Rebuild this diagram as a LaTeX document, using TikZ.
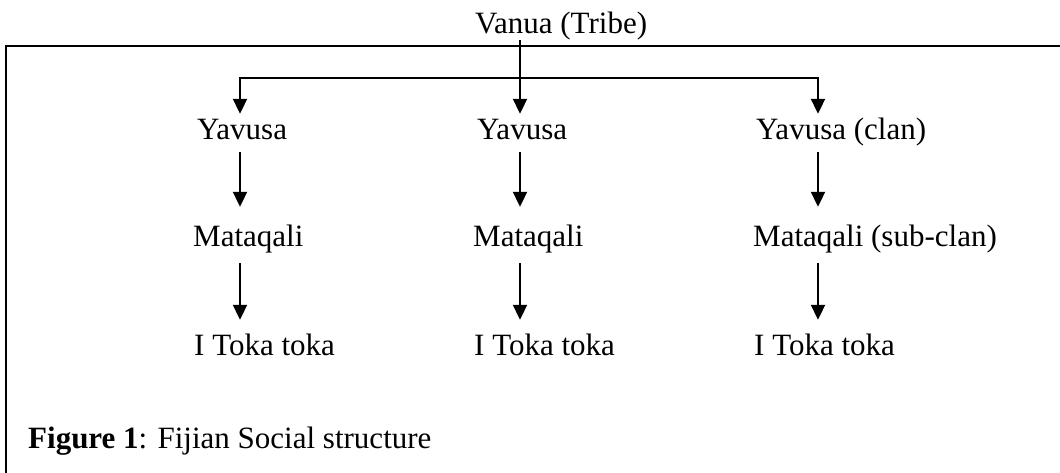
\documentclass[tikz,border=0pt]{standalone}
\usepackage{fontspec}
\setmainfont{Liberation Serif}
\usetikzlibrary{arrows.meta}
\begin{document}
\begin{tikzpicture}[x=1pt,y=-1pt,
  tri/.tip={Triangle[length=15pt,width=14pt]},
  lbl/.style={inner sep=0pt, anchor=base west, font=\fontsize{31}{37}\selectfont, text height=21pt, text depth=7pt},
  arr/.style={line width=2pt, -tri},
  frame/.style={line width=2pt}]
\useasboundingbox (0,0) rectangle (1060,472);
% frame (extends beyond the picture edges)
\coordinate (fr1) at (1070,46);
\coordinate (fr2) at (6,46);
\coordinate (fr3) at (6,480);
\draw[frame] (fr1) -- (fr2) -- (fr3);
% column axes
\coordinate (a1) at (240,0);
\coordinate (a2) at (520,0);
\coordinate (a3) at (818,0);
\coordinate (hub) at (520,78);
% nodes
\node[lbl] (v) at (475,33) {Vanua (Tribe)};
\node[lbl] (y1) at (197,139) {Yavusa};
\node[lbl] (y2) at (477,139) {Yavusa};
\node[lbl] (y3) at (756,139) {Yavusa (clan)};
\node[lbl] (m1) at (193,246) {Mataqali};
\node[lbl] (m2) at (473,246) {Mataqali};
\node[lbl] (m3) at (753,246) {Mataqali (sub-clan)};
\node[lbl] (t1) at (194,355) {I Toka toka};
\node[lbl] (t2) at (474,355) {I Toka toka};
\node[lbl] (t3) at (754,355) {I Toka toka};
\node[lbl] (cap) at (28,448) {\textbf{Figure 1}: Fijian Social structure};
% connectors
\draw[arr, shorten >=4pt] (v.south -| a2) -- (y2.north -| a2);
\draw[line width=2pt, tri-tri, shorten <=4pt, shorten >=4pt] (y1.north -| a1) |- (hub) -| (y3.north -| a3);
\foreach \c in {1,2,3}{
  \draw[arr, shorten <=6pt, shorten >=18pt] (y\c.south -| a\c) -- (m\c.north -| a\c);
  \draw[arr, shorten <=10pt, shorten >=14pt] (m\c.south -| a\c) -- (t\c.north -| a\c);
}
\end{tikzpicture}
\end{document}
